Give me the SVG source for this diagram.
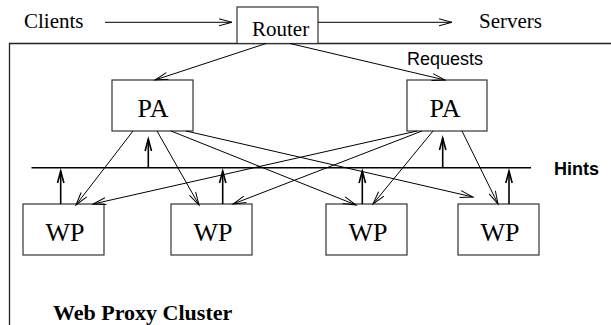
<svg xmlns="http://www.w3.org/2000/svg" width="611" height="325" viewBox="0 0 611 325">
<style>
.box{fill:#fff;stroke:#333;stroke-width:1.2}
.serif{font-family:"Liberation Serif","Times New Roman",serif;fill:#000}
.sans{font-family:"Liberation Sans",Arial,sans-serif;fill:#000}
.ln{fill:none;stroke:#000;stroke-width:1;marker-end:url(#ah)}
.up{fill:none;stroke:#000;stroke-width:1.6;marker-end:url(#ahb)}
</style>
<defs>
<marker id="ah" markerUnits="userSpaceOnUse" markerWidth="16" markerHeight="12" refX="13" refY="6" orient="auto" overflow="visible">
<path d="M0,2.5 L13,6 L0,9.5" fill="none" stroke="#000" stroke-width="1"/>
</marker>
<marker id="ahb" markerUnits="userSpaceOnUse" markerWidth="16" markerHeight="12" refX="12" refY="6" orient="auto" overflow="visible">
<path d="M0,2.8 L12,6 L0,9.2" fill="none" stroke="#000" stroke-width="1.6"/>
</marker>
</defs>
<g id="cluster">
<path d="M9.5,325 L9.5,43.5 L611,43.5" fill="none" stroke="#222" stroke-width="1.3"/>
<text class="serif" x="53" y="320" font-size="22" font-weight="bold">Web Proxy Cluster</text>
</g>
<g id="clients"><text class="serif" x="24" y="28" font-size="21">Clients</text></g>
<g id="servers"><text class="serif" x="479" y="28" font-size="21">Servers</text></g>
<g id="router">
<rect class="box" x="237" y="7" width="81" height="36.5"/>
<text class="serif" x="252" y="36" font-size="21">Router</text>
</g>
<g id="pa1">
<rect class="box" x="112" y="80" width="81" height="51"/>
<text class="serif" x="153" y="117" font-size="26" text-anchor="middle">PA</text>
</g>
<g id="pa2">
<rect class="box" x="407" y="80" width="80" height="51"/>
<text class="serif" x="445" y="117" font-size="26" text-anchor="middle">PA</text>
</g>
<g id="wp1">
<rect class="box" x="23" y="204" width="81" height="51"/>
<text class="serif" x="65" y="241" font-size="26" text-anchor="middle">WP</text>
</g>
<g id="wp2">
<rect class="box" x="171" y="204" width="81" height="51"/>
<text class="serif" x="213" y="241" font-size="26" text-anchor="middle">WP</text>
</g>
<g id="wp3">
<rect class="box" x="326" y="204" width="81" height="51"/>
<text class="serif" x="368" y="241" font-size="26" text-anchor="middle">WP</text>
</g>
<g id="wp4">
<rect class="box" x="458" y="204" width="81" height="51"/>
<text class="serif" x="500" y="241" font-size="26" text-anchor="middle">WP</text>
</g>
<g id="hints">
<line x1="31.5" y1="167.7" x2="531" y2="167.7" stroke="#000" stroke-width="1.6"/>
<text class="sans" x="554" y="175" font-size="18" font-weight="bold">Hints</text>
</g>
<g id="requests-label"><text class="sans" x="407" y="65" font-size="18">Requests</text></g>
<g id="connectors">
<line class="ln" x1="105" y1="22.3" x2="232" y2="22.3"/>
<line class="ln" x1="318" y1="22.3" x2="452" y2="22.3"/>
<line class="ln" x1="266" y1="43.5" x2="155" y2="80"/>
<line class="ln" x1="290" y1="43.5" x2="445" y2="80"/>
<line class="ln" x1="133" y1="131" x2="76" y2="205"/>
<line class="ln" x1="157" y1="131" x2="199" y2="205"/>
<line class="ln" x1="171" y1="131" x2="356" y2="205"/>
<line class="ln" x1="186" y1="131" x2="473" y2="197"/>
<line class="ln" x1="417" y1="131" x2="93" y2="204"/>
<line class="ln" x1="422" y1="131" x2="233" y2="204"/>
<line class="ln" x1="433" y1="131" x2="373" y2="204"/>
<line class="ln" x1="462" y1="131" x2="498" y2="204"/>
<line class="up" x1="148.3" y1="167.7" x2="148.3" y2="139"/>
<line class="up" x1="442.7" y1="167.7" x2="442.7" y2="138"/>
<line class="up" x1="60.7" y1="204" x2="60.7" y2="171"/>
<line class="up" x1="222.7" y1="204" x2="222.7" y2="171"/>
<line class="up" x1="362.3" y1="204" x2="362.3" y2="171"/>
<line class="up" x1="509" y1="204" x2="509" y2="171"/>
</g>
</svg>
